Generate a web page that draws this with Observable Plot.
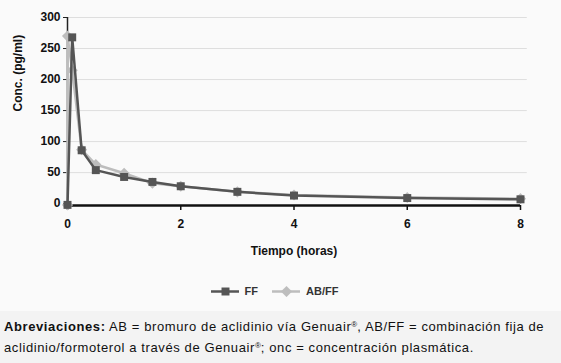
<!DOCTYPE html>
<html>
<head>
<meta charset="utf-8">
<script src="https://cdn.jsdelivr.net/npm/d3@7"></script>
<script src="https://cdn.jsdelivr.net/npm/@observablehq/plot@0.6"></script>
<style>
  html, body { margin: 0; padding: 0; background: #fafafa; }
  body { width: 561px; height: 363px; overflow: hidden; font-family: "Liberation Sans", Arial, sans-serif; }
  #legend { height: 46px; display: flex; justify-content: center; align-items: center; gap: 14px; font-size: 11px; font-weight: bold; color: #333; padding-right: 12px; padding-top: 6px; box-sizing: border-box; }
  #legend .item { display: flex; align-items: center; gap: 6px; }
  #caption { background: #f3f3f3; font-size: 13px; letter-spacing: 0.6px; line-height: 19px; color: #111; padding: 6px 4px 8px 4px; margin-top: 0px; white-space: nowrap; }
  #caption .reg { font-size: 8px; letter-spacing: 0; position: relative; top: -4px; }
  #caption .b { font-weight: bold; }
</style>
</head>
<body>
<div id="chart"></div>
<div id="legend"></div>
<div id="caption">
  <div><span class="b">Abreviaciones:</span><span> AB = bromuro de aclidinio vía Genuair</span><span class="reg">®</span><span>, AB/FF = combinación fija de</span></div>
  <div><span>aclidinio/formoterol a través de Genuair</span><span class="reg">®</span><span>; onc = concentración plasmática.</span></div>
</div>
<script>
const seriesNames = ["FF", "AB/FF"];
const ffTimes = [0, 0.083, 0.25, 0.5, 1, 1.5, 2, 3, 4, 6, 8];
const ffValues = [-2, 268, 86, 54, 43, 35, 28, 19, 13, 9, 7];
const abffTimes = [0, 0, 0.083, 0.25, 0.5, 1, 1.5, 2, 3, 4, 6, 8];
const abffValues = [-2, 270, 215, 87, 63, 49, 33, 28, 19, 14, 10, 8];
const xTicks = [0, 2, 4, 6, 8];
const yTicks = [0, 50, 100, 150, 200, 250, 300];

const colors = {"FF": "#555555", "AB/FF": "#bdbdbd"};
const symbols = {"FF": "square", "AB/FF": "diamond2"};

const ff = ffTimes.map((t, i) => ({series: "FF", t, v: ffValues[i]}));
const abff = abffTimes.map((t, i) => ({series: "AB/FF", t, v: abffValues[i]}));

const fontFamily = '"Liberation Sans", Arial, sans-serif';

const plot = Plot.plot({
  width: 561,
  height: 265,
  marginLeft: 67,
  marginRight: 41,
  marginTop: 17,
  marginBottom: 60,
  style: {fontFamily, fontSize: "12px", background: "#fafafa", color: "#111"},
  x: {domain: [0, 8]},
  y: {domain: [-3, 300]},
  marks: [
    Plot.ruleY(yTicks.filter(d => d > 0), {x1: 0, x2: 8.12, stroke: "#dedede", strokeWidth: 1}),
    Plot.axisY({ticks: yTicks, tickSize: 4, tickPadding: 3, fontWeight: "bold", fontSize: 12, label: null, stroke: "#222"}),
    Plot.text(["Conc. (pg/ml)"], {frameAnchor: "left", dx: -49, rotate: -90, fontWeight: "bold", fontSize: 12}),
    Plot.axisX({ticks: xTicks, tickSize: 5, tickPadding: 9, fontWeight: "bold", fontSize: 12, label: null, stroke: "#111", strokeWidth: 1.5}),
    Plot.text(["Tiempo (horas)"], {frameAnchor: "bottom", dy: 49, fontWeight: "bold", fontSize: 12}),
    Plot.ruleX([0], {y1: -3, y2: 300, stroke: "#222", strokeWidth: 1.5}),
    Plot.ruleY([-3], {x1: 0, x2: 8, stroke: "#111", strokeWidth: 2.5}),
    Plot.line(abff, {x: "t", y: "v", stroke: colors["AB/FF"], strokeWidth: 2.5}),
    Plot.dot(abff, {x: "t", y: "v", symbol: symbols["AB/FF"], fill: colors["AB/FF"], r: 5}),
    Plot.line(ff, {x: "t", y: "v", stroke: colors["FF"], strokeWidth: 2.5}),
    Plot.dot(ff, {x: "t", y: "v", symbol: symbols["FF"], fill: colors["FF"], r: 4.5})
  ]
});
document.getElementById("chart").append(plot);

const legend = document.getElementById("legend");
for (const name of seriesNames) {
  const item = document.createElement("div");
  item.className = "item";
  const sw = Plot.plot({
    width: 28, height: 12, margin: 0,
    x: {domain: [0, 1], axis: null}, y: {domain: [0, 1], axis: null},
    style: {background: "transparent"},
    marks: [
      Plot.ruleY([0.5], {stroke: colors[name], strokeWidth: 2.5}),
      Plot.dot([{x: 0.5, y: 0.5}], {x: "x", y: "y", symbol: symbols[name], fill: colors[name], r: name === "FF" ? 4.5 : 5})
    ]
  });
  item.append(sw);
  const label = document.createElement("span");
  label.textContent = name;
  item.append(label);
  legend.append(item);
}
</script>
</body>
</html>
